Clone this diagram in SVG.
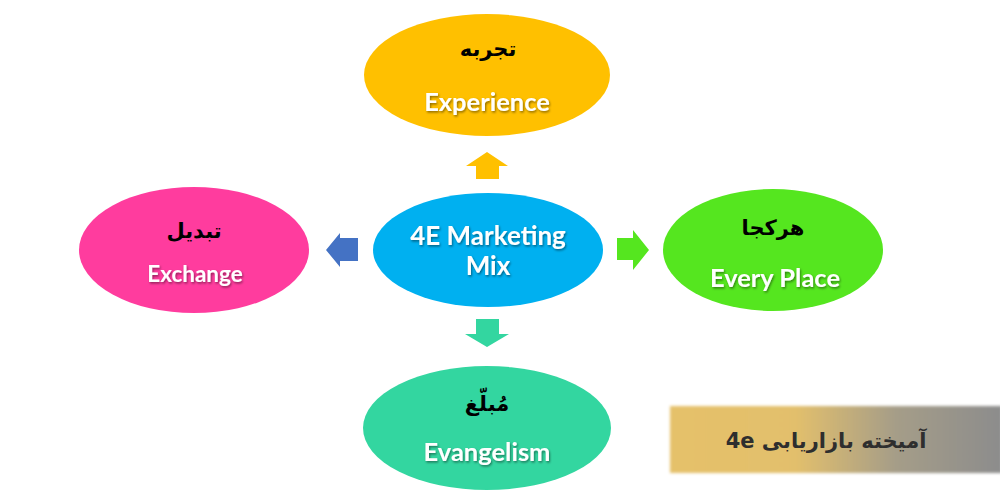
<svg xmlns="http://www.w3.org/2000/svg" width="1000" height="500" viewBox="0 0 1000 500">
<defs>
<filter id="ts" x="-10%" y="-30%" width="120%" height="160%">
<feDropShadow dx="1" dy="1.5" stdDeviation="1" flood-color="#000" flood-opacity="0.45"/>
</filter>
<filter id="bs" x="-5%" y="-20%" width="110%" height="140%">
<feGaussianBlur stdDeviation="1.5"/>
</filter>
<linearGradient id="bg" x1="0" y1="0" x2="1" y2="0">
<stop offset="0" stop-color="#E5C16A"/>
<stop offset="0.38" stop-color="#E2BF6C"/>
<stop offset="0.68" stop-color="#A59D88"/>
<stop offset="1" stop-color="#8C8C8C"/>
</linearGradient>
</defs>
<style>
.en{font-family:Lato,"Open Sans","Liberation Sans",sans-serif;font-weight:bold;fill:#fff;text-anchor:middle;filter:url(#ts)}
.fa{font-family:"DejaVu Sans",sans-serif;font-weight:bold;fill:#000;text-anchor:middle}
</style>
<rect width="1000" height="500" fill="#fff"/>
<g id="connectors">
<polygon points="487,152 508,166 499,166 499,179 476,179 476,166 466,166" fill="#FFC000"/>
<polygon points="326,250 340,233 340,238 358,238 358,261 340,261 340,267" fill="#4472C4"/>
<polygon points="649,250 633,230 633,238 617,238 617,260 633,260 633,270" fill="#55E61F"/>
<polygon points="487,347 509,334 499,334 499,319 476,319 476,334 465,334" fill="#33D6A0"/>
</g>
<g id="experience">
<ellipse cx="487" cy="75" rx="123" ry="61" fill="#FFC000"/>
<text class="fa" x="488" y="56" font-size="21">تجربه</text>
<text class="en" x="487" y="111" font-size="25.5">Experience</text>
</g>
<g id="center">
<ellipse cx="488" cy="250" rx="115" ry="57" fill="#00B0F0"/>
<text class="en" x="488" y="245" font-size="26">4E Marketing</text>
<text class="en" x="488" y="275" font-size="26">Mix</text>
</g>
<g id="exchange">
<ellipse cx="194" cy="250" rx="115" ry="63" fill="#FF3C9E"/>
<text class="fa" x="194" y="238" font-size="21">تبدیل</text>
<text class="en" x="195" y="282" font-size="22.5">Exchange</text>
</g>
<g id="everyplace">
<ellipse cx="773" cy="250" rx="110" ry="61" fill="#55E61F"/>
<text class="fa" x="773" y="235" font-size="21">هرکجا</text>
<text class="en" x="775" y="287" font-size="25.5">Every Place</text>
</g>
<g id="evangelism">
<ellipse cx="487" cy="428" rx="124" ry="62" fill="#33D6A0"/>
<text class="fa" x="487" y="411" font-size="21">مُبلّغ</text>
<text class="en" x="487" y="461" font-size="25.5">Evangelism</text>
</g>
<g id="banner">
<rect x="670" y="406" width="332" height="67" fill="url(#bg)" filter="url(#bs)"/>
<text x="826" y="448" font-family="'DejaVu Sans',sans-serif" font-weight="bold" font-size="21" fill="#2E2E2E" text-anchor="middle" direction="rtl">آمیخته بازاریابی 4e</text>
</g>
</svg>
